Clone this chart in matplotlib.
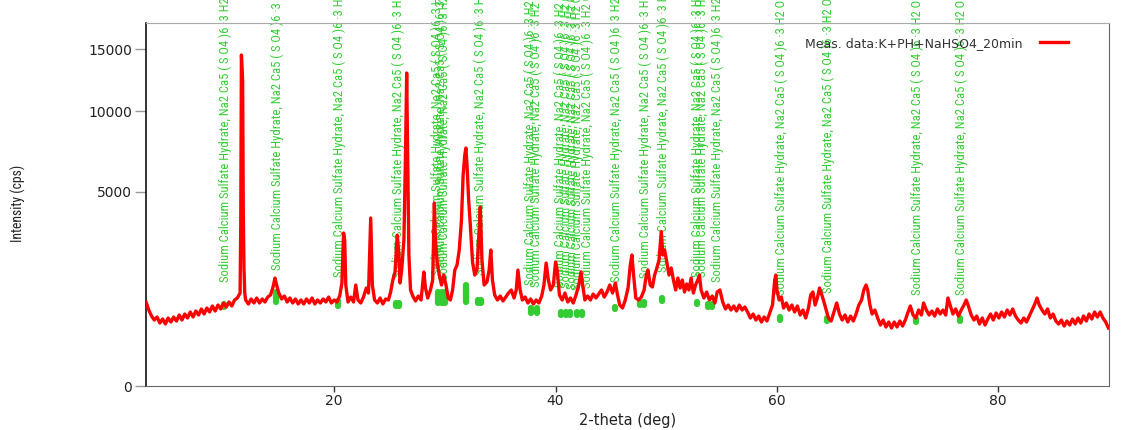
import numpy as np
import matplotlib
matplotlib.use("Agg")
import matplotlib.pyplot as plt
from matplotlib import font_manager


def pick_font(names):
    for name in names:
        try:
            font_manager.findfont(name, fallback_to_default=False)
            return name
        except ValueError:
            pass
    return "DejaVu Sans"


narrow = pick_font(["Liberation Sans Narrow", "Arial Narrow", "Roboto Condensed"])

# measured scan: (2-theta deg, intensity cps)
scan = [
    (3.00, 934), (3.25, 764), (3.50, 648), (3.75, 576), (4.00, 630), (4.25, 525),
    (4.50, 594), (4.75, 509), (5.00, 612), (5.25, 542), (5.50, 630), (5.75, 559),
    (6.00, 667), (6.25, 576), (6.50, 686), (6.75, 612), (7.00, 725), (7.25, 630),
    (7.50, 744), (7.75, 667), (8.00, 785), (8.25, 686), (8.50, 805), (8.75, 725),
    (9.00, 847), (9.25, 744), (9.50, 868), (9.75, 785), (10.00, 912), (10.25, 826),
    (10.50, 934), (10.75, 847), (11.00, 979), (11.25, 1025), (11.50, 1144),
    (11.56, 3430), (11.62, 14500), (11.73, 12400), (11.79, 4000), (11.85, 1870),
    (11.92, 1150), (12.00, 979), (12.25, 890), (12.50, 1002), (12.75, 912),
    (13.00, 1025), (13.25, 912), (13.50, 1002), (13.75, 934), (14.00, 1048),
    (14.25, 1096), (14.50, 1323), (14.65, 1543), (14.80, 1350), (15.00, 1144),
    (15.25, 1002), (15.50, 1072), (15.75, 934), (16.00, 1025), (16.25, 912),
    (16.50, 1002), (16.75, 890), (17.00, 979), (17.25, 890), (17.50, 1002),
    (17.75, 912), (18.00, 1025), (18.25, 890), (18.50, 979), (18.75, 912),
    (19.00, 1002), (19.25, 934), (19.50, 1048), (19.75, 912), (20.00, 979),
    (20.25, 934), (20.50, 1072), (20.70, 1404), (20.85, 3098), (20.95, 2821),
    (21.05, 1350), (21.25, 934), (21.50, 1048), (21.75, 934), (21.95, 1350),
    (22.15, 979), (22.40, 912), (22.65, 1048), (22.90, 1271), (23.10, 1144),
    (23.30, 3735), (23.45, 1350), (23.65, 979), (23.90, 912), (24.15, 1025),
    (24.40, 890), (24.65, 1002), (24.90, 979), (25.10, 1169), (25.30, 1487),
    (25.50, 1720), (25.70, 3017), (25.85, 2271), (25.95, 1404), (26.10, 1780),
    (26.30, 2821), (26.45, 7370), (26.55, 12964), (26.65, 6759), (26.75, 2271),
    (26.90, 1220), (27.10, 1072), (27.35, 956), (27.60, 1072), (27.85, 979),
    (28.00, 1404), (28.10, 1720), (28.25, 1271), (28.45, 1025), (28.70, 1220),
    (28.90, 1487), (29.05, 4431), (29.15, 2821), (29.30, 2035), (29.50, 1630),
    (29.70, 1350), (29.90, 1630), (30.10, 1350), (30.30, 1025), (30.50, 979),
    (30.70, 1220), (30.90, 1780), (31.10, 1937), (31.30, 2448), (31.50, 3647),
    (31.65, 5890), (31.80, 7060), (31.90, 7496), (32.00, 6460), (32.15, 4578),
    (32.30, 3430), (32.50, 2035), (32.70, 1630), (32.90, 1780), (33.05, 2821),
    (33.20, 4240), (33.35, 2101), (33.55, 1350), (33.80, 1431), (34.00, 1780),
    (34.15, 2448), (34.30, 1487), (34.50, 1096), (34.75, 979), (35.00, 1072),
    (35.25, 956), (35.50, 1048), (35.75, 1144), (36.00, 1220), (36.25, 1025),
    (36.45, 1220), (36.60, 1780), (36.80, 1220), (37.00, 979), (37.25, 1048),
    (37.50, 912), (37.75, 1002), (38.00, 890), (38.25, 979), (38.50, 912),
    (38.75, 1072), (38.95, 1350), (39.15, 2002), (39.35, 1487), (39.55, 1220),
    (39.80, 1350), (40.00, 2035), (40.15, 1780), (40.35, 1096), (40.60, 979),
    (40.85, 1144), (41.10, 934), (41.35, 1025), (41.60, 912), (41.85, 1096),
    (42.10, 1350), (42.30, 1720), (42.45, 1350), (42.65, 979), (42.90, 1072),
    (43.15, 979), (43.40, 1120), (43.65, 1025), (43.90, 1120), (44.15, 1220),
    (44.40, 1048), (44.65, 1169), (44.90, 1350), (45.15, 1144), (45.40, 1404),
    (45.60, 1096), (45.80, 868), (46.05, 805), (46.30, 979), (46.55, 1271),
    (46.75, 1937), (46.90, 2271), (47.05, 1630), (47.25, 1025), (47.50, 979),
    (47.75, 1048), (48.00, 1220), (48.20, 1630), (48.35, 1780), (48.55, 1350),
    (48.75, 1297), (48.95, 1630), (49.15, 1843), (49.35, 2101), (49.55, 3155),
    (49.70, 2271), (49.85, 2448), (50.05, 2035), (50.25, 1630), (50.45, 1843),
    (50.65, 1487), (50.85, 1220), (51.05, 1543), (51.25, 1271), (51.45, 1487),
    (51.65, 1169), (51.85, 1377), (52.05, 1220), (52.25, 1543), (52.45, 1144),
    (52.65, 1350), (52.85, 1487), (53.00, 1630), (53.15, 1220), (53.40, 1025),
    (53.65, 1169), (53.90, 979), (54.15, 1072), (54.40, 912), (54.60, 1169),
    (54.85, 1220), (55.10, 934), (55.35, 785), (55.60, 868), (55.85, 764),
    (56.10, 847), (56.35, 744), (56.60, 868), (56.85, 764), (57.10, 826),
    (57.35, 725), (57.60, 612), (57.85, 686), (58.10, 576), (58.35, 648),
    (58.60, 542), (58.85, 630), (59.10, 559), (59.35, 705), (59.60, 868),
    (59.80, 1487), (59.90, 1630), (60.00, 1220), (60.20, 979), (60.40, 1048),
    (60.60, 805), (60.85, 912), (61.10, 764), (61.35, 868), (61.60, 725),
    (61.85, 847), (62.10, 667), (62.35, 764), (62.60, 612), (62.85, 805),
    (63.05, 1096), (63.25, 1169), (63.45, 868), (63.65, 1025), (63.85, 1271),
    (64.00, 1144), (64.20, 979), (64.40, 805), (64.65, 612), (64.90, 559),
    (65.15, 725), (65.40, 912), (65.65, 686), (65.90, 576), (66.15, 667),
    (66.40, 542), (66.65, 648), (66.90, 559), (67.15, 686), (67.40, 868),
    (67.65, 979), (67.85, 1220), (68.05, 1350), (68.20, 1220), (68.40, 868),
    (68.60, 686), (68.85, 764), (69.10, 612), (69.35, 492), (69.60, 576),
    (69.85, 461), (70.10, 542), (70.35, 445), (70.60, 542), (70.85, 461),
    (71.10, 559), (71.35, 476), (71.60, 576), (71.85, 725), (72.05, 847),
    (72.30, 667), (72.55, 612), (72.80, 764), (73.05, 667), (73.25, 912),
    (73.50, 764), (73.75, 667), (74.00, 744), (74.25, 648), (74.50, 785),
    (74.75, 686), (75.00, 764), (75.25, 667), (75.45, 1025), (75.65, 868),
    (75.90, 686), (76.15, 785), (76.40, 648), (76.65, 764), (76.90, 868),
    (77.10, 979), (77.30, 847), (77.55, 667), (77.80, 576), (78.05, 648),
    (78.30, 509), (78.55, 612), (78.80, 492), (79.05, 594), (79.30, 686),
    (79.55, 576), (79.80, 705), (80.05, 612), (80.30, 725), (80.55, 630),
    (80.80, 764), (81.05, 667), (81.30, 785), (81.55, 648), (81.80, 576),
    (82.05, 525), (82.30, 612), (82.55, 542), (82.80, 648), (83.05, 764),
    (83.30, 890), (83.50, 1025), (83.70, 868), (83.95, 764), (84.20, 686),
    (84.45, 785), (84.70, 612), (84.95, 686), (85.20, 559), (85.45, 509),
    (85.70, 576), (85.95, 476), (86.20, 559), (86.45, 492), (86.70, 594),
    (86.95, 509), (87.20, 612), (87.45, 525), (87.70, 648), (87.95, 559),
    (88.20, 686), (88.45, 594), (88.70, 725), (88.95, 630), (89.20, 725),
    (89.45, 612), (89.70, 542), (89.95, 445),
]

# reference pattern sticks: position, bottom, top (cps)
stick_pos = [10.05, 14.75, 20.35, 25.55, 25.85, 29.4, 29.7, 30.0, 31.95, 33.0,
             33.3, 37.8, 38.3, 40.5, 40.9, 41.3, 41.9, 42.4, 45.4, 47.6, 48.0,
             49.6, 52.8, 53.8, 54.1, 60.3, 64.5, 72.6, 76.5]
stick_lo = [826, 934, 847, 847, 847, 912, 912, 912, 934, 912,
            912, 705, 705, 667, 667, 667, 667, 667, 785, 868, 868,
            956, 890, 826, 826, 576, 559, 542, 559]
stick_hi = [890, 1169, 956, 912, 912, 1169, 1169, 1169, 1350, 979,
            979, 805, 805, 725, 725, 725, 725, 725, 826, 934, 934,
            1025, 934, 890, 890, 630, 612, 594, 612]

# phase identification labels: position and label base (cps)
label_pos = [10.2, 14.9, 20.5, 25.75, 29.3, 29.65, 29.95, 33.2, 37.7, 38.3,
             40.4, 40.95, 41.5, 41.95, 42.9, 45.5, 48.1, 49.7, 52.85, 53.25,
             54.6, 60.4, 64.6, 72.7, 76.7]
label_base = [1431, 1780, 1572, 1543, 1630, 1843, 1490, 1630, 1350, 1297,
              1297, 1271, 1244, 1220, 1271, 1431, 1543, 1720, 1572, 1572,
              1431, 1096, 1144, 1096, 1096]
phase_name = "Sodium Calcium Sulfate Hydrate, Na2 Ca5 ( S O4 )6 \u00b73 H2 O"
series_name = "Meas. data:K+PH+NaHSO4_20min"

two_theta = [p[0] for p in scan]
counts = [p[1] for p in scan]

red = "#ff0000"
green = "#33cc33"

fig = plt.figure(figsize=(11.29, 4.30), dpi=100)
ax = fig.add_axes([146 / 1129, 44 / 430, 963 / 1129, 363.3 / 430])

ax.set_yscale("function", functions=(lambda v: np.sqrt(np.clip(v, 0, None)),
                                     lambda v: np.square(v)))

for x, y in zip(label_pos, label_base):
    ax.text(x, y, phase_name, rotation=90, ha="center", va="bottom",
            color=green, fontsize=9.1, family=narrow, clip_on=False, zorder=2)

sticks = ax.vlines(stick_pos, stick_lo, stick_hi, colors=green, linewidth=4.5,
                   zorder=2)
sticks.set_capstyle("round")

ax.plot(two_theta, counts, color=red, linewidth=2.4, label=series_name, zorder=3)

ax.set_xlim(3, 90)
ax.set_ylim(0, 17470)
ax.set_xticks([20, 40, 60, 80])
ax.set_yticks([0, 5000, 10000, 15000])
ax.tick_params(axis="x", length=4, width=1, color="#333333", labelsize=10,
               pad=2, labelcolor="#222222")
ax.tick_params(axis="y", length=8, width=1, color="#999999", labelsize=10,
               pad=2, labelcolor="#222222")

ax.spines["left"].set_color("#111111")
ax.spines["left"].set_linewidth(1.2)
ax.spines["bottom"].set_color("#666666")
ax.spines["top"].set_color("#aaaaaa")
ax.spines["right"].set_color("#666666")

ax.set_xlabel("2-theta (deg)", fontsize=10.5, labelpad=3, color="#222222")
ax.set_ylabel("Intensity (cps)", fontsize=9.9, family=narrow, color="#222222")
ax.yaxis.set_label_coords(-0.1246, 0.504)

ax.legend(loc="center right", bbox_to_anchor=(0.957, 0.944), frameon=False,
          markerfirst=False, fontsize=9, handlelength=2.2, handletextpad=1.4,
          borderpad=0, borderaxespad=0, labelcolor="#333333")

fig.savefig("out.png", dpi=100)
